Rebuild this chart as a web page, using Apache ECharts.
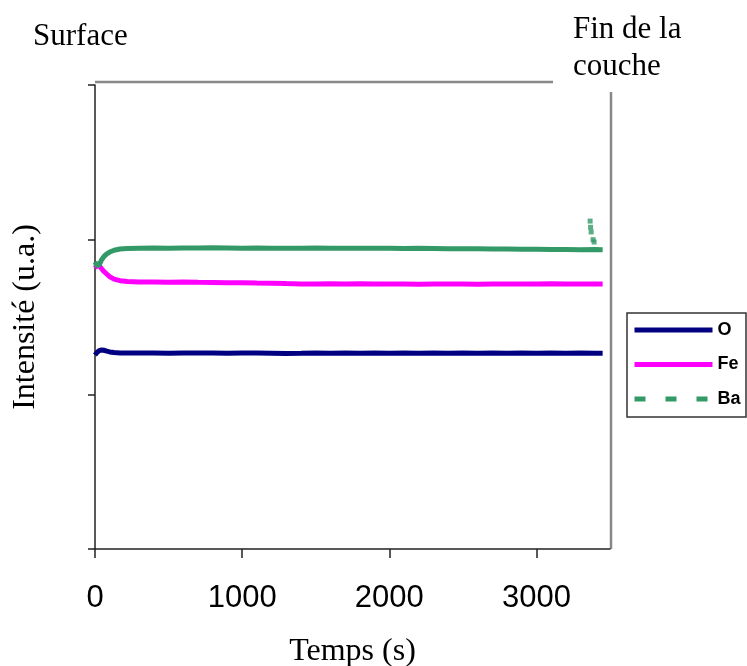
<!DOCTYPE html>
<html>
<head>
<meta charset="utf-8">
<script src="https://cdn.jsdelivr.net/npm/echarts@6/dist/echarts.min.js"></script>
<style>html,body{margin:0;padding:0;background:#fff}#c{width:747px;height:666px}</style>
</head>
<body>
<div id="c"></div>
<script>
// ---- data ----
const times = [0,15,30,45,60,80,100,130,170,220,300,400,500,600,700,800,900,1000,1100,1200,1300,1400,1500,1600,1700,1800,1900,2000,2100,2200,2300,2400,2500,2600,2700,2800,2900,3000,3100,3200,3300,3400,3450];
const oVals = [1.254,1.272,1.283,1.287,1.285,1.279,1.274,1.270,1.268,1.268,1.267,1.268,1.266,1.268,1.267,1.268,1.266,1.267,1.268,1.266,1.264,1.265,1.267,1.266,1.268,1.266,1.267,1.265,1.267,1.266,1.268,1.266,1.267,1.265,1.267,1.266,1.267,1.266,1.268,1.266,1.267,1.266,1.266];
const feVals = [1.817,1.835,1.830,1.812,1.795,1.778,1.760,1.745,1.735,1.730,1.727,1.726,1.725,1.726,1.724,1.723,1.722,1.722,1.720,1.719,1.716,1.714,1.714,1.715,1.714,1.715,1.713,1.713,1.714,1.712,1.713,1.714,1.713,1.712,1.713,1.714,1.713,1.714,1.715,1.714,1.713,1.714,1.713];
const baVals = [1.855,1.830,1.840,1.870,1.890,1.908,1.920,1.932,1.940,1.943,1.945,1.946,1.945,1.946,1.946,1.947,1.946,1.945,1.946,1.945,1.944,1.945,1.946,1.945,1.944,1.945,1.944,1.944,1.943,1.944,1.943,1.942,1.942,1.941,1.940,1.939,1.938,1.938,1.937,1.936,1.935,1.936,1.935];
const baSpikeTimes = [3365,3368,3372,3385,3392];
const baSpikeVals = [2.12,2.08,2.05,2.00,1.985];
const xTicks = [0,1000,2000,3000];
const seriesNames = ['O','Fe','Ba'];

const zip = (xs, ys) => xs.map((x, i) => [x, ys[i]]);
const chart = echarts.init(document.getElementById('c'), null, {renderer: 'canvas'});
const serif = '"Liberation Serif","Times New Roman",serif';
const sans = '"Liberation Sans",Arial,sans-serif';

chart.setOption({
  animation: false,
  backgroundColor: '#fff',
  grid: {left: 95, top: 85, right: 137, bottom: 117, containLabel: false, outerBoundsMode: 'none'},
  xAxis: {
    type: 'value', min: 0, max: 3500, interval: 1000,
    name: 'Temps (s)', nameLocation: 'middle', nameGap: 87,
    nameTextStyle: {fontFamily: serif, fontSize: 32, color: '#000'},
    axisLine: {onZero: false, lineStyle: {color: '#222', width: 1.5}},
    axisTick: {show: true, length: 9, lineStyle: {color: '#222', width: 1.5}, customValues: xTicks},
    axisLabel: {fontFamily: sans, fontSize: 31, color: '#000', margin: 34, customValues: xTicks,
      formatter: v => String(v)},
    splitLine: {show: false}
  },
  yAxis: {
    type: 'value', min: 0, max: 3, interval: 1,
    name: 'Intensité (u.a.)', nameLocation: 'middle', nameGap: 53,
    nameTextStyle: {fontFamily: serif, fontSize: 32, color: '#000'},
    axisLine: {show: true, onZero: false, lineStyle: {color: '#222', width: 1.5}},
    axisTick: {show: true, length: 7, lineStyle: {color: '#222', width: 1.5}},
    axisLabel: {show: false},
    splitLine: {show: false}
  },
  legend: {
    data: [
      {name: 'O', lineStyle: {width: 5}},
      {name: 'Fe', lineStyle: {width: 5}},
      {name: 'Ba', lineStyle: {type: [11, 20], width: 5, color: '#339966'}}
    ],
    orient: 'vertical', left: 632, top: 321, padding: 0,
    itemWidth: 78, itemHeight: 18, itemGap: 16.5,
    itemStyle: {opacity: 0},
    textStyle: {fontFamily: sans, fontSize: 18, fontWeight: 'bold', color: '#000', padding: [0,0,0,0]},
    selectedMode: false
  },
  graphic: [
    {type: 'line', shape: {x1: 95, y1: 82, x2: 553, y2: 82}, style: {stroke: '#888', lineWidth: 2.5}, silent: true},
    {type: 'line', shape: {x1: 611, y1: 92, x2: 611, y2: 549}, style: {stroke: '#888', lineWidth: 2.5}, silent: true},
    {type: 'rect', shape: {x: 627, y: 313, width: 119, height: 104}, style: {fill: 'none', stroke: '#333', lineWidth: 1.5}, silent: true},
    {type: 'text', left: 33, top: 21, style: {text: 'Surface', font: '31px ' + serif, fill: '#000'}},
    {type: 'text', left: 573, top: 11, style: {text: 'Fin de la\ncouche', font: '31px ' + serif, fill: '#000', lineHeight: 37}}
  ],
  series: [
    {name: 'O', type: 'line', data: zip(times, oVals), symbol: 'none', smooth: false,
     lineStyle: {color: '#000080', width: 5}, itemStyle: {color: '#000080'}},
    {name: 'Fe', type: 'line', data: zip(times, feVals), symbol: 'none', smooth: false,
     lineStyle: {color: '#FF00FF', width: 5}, itemStyle: {color: '#FF00FF'}},
    {name: 'Ba', type: 'line', data: zip(times, baVals), symbol: 'none', smooth: false,
     lineStyle: {color: '#339966', width: 5}, itemStyle: {color: '#339966'}},
    {name: 'Ba pic', type: 'scatter', data: zip(baSpikeTimes, baSpikeVals), symbol: 'rect', symbolSize: 5,
     itemStyle: {color: '#339966'}}
  ]
});
</script>
</body>
</html>
